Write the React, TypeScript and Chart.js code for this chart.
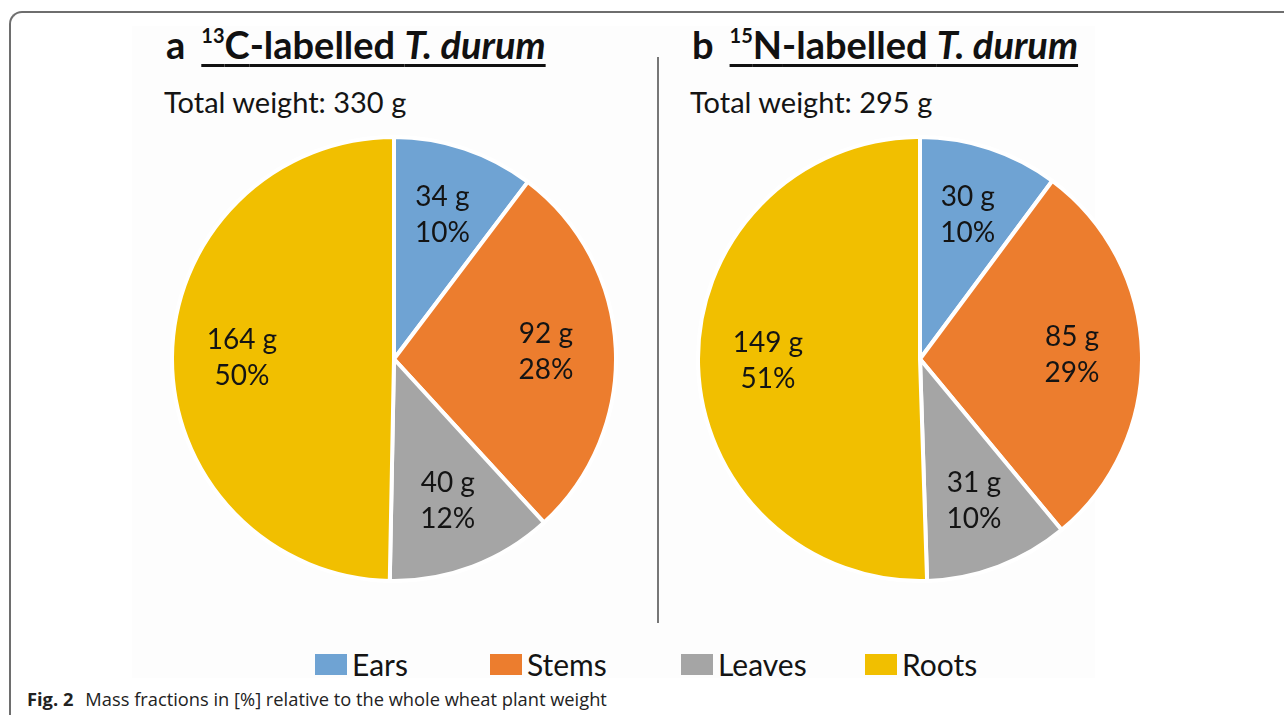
import React, { useEffect, useRef } from "react";
import { Chart, registerables } from "chart.js";

Chart.register(...registerables);

const categories = ["Ears", "Stems", "Leaves", "Roots"];
const colors = ["#6FA3D3", "#EC7D2E", "#A5A5A5", "#F1BF00"];
const weightsC13 = [34, 92, 40, 164];
const percentC13 = [10, 28, 12, 50];
const weightsN15 = [30, 85, 31, 149];
const percentN15 = [10, 29, 10, 51];
const totalC13 = 330;
const totalN15 = 295;

// layout only
const legendLeft = [315, 490, 681, 865];

const LABEL_FONT = "Lato, 'Open Sans', sans-serif";

const sliceLabelPlugin = {
  id: "sliceLabels",
  afterDatasetsDraw(chart: any) {
    const ctx = chart.ctx;
    const meta = chart.getDatasetMeta(0);
    const pcts: number[] = chart.options.plugins.sliceLabels.percents;
    const ds = chart.data.datasets[0];
    ctx.save();
    ctx.font = `28px ${LABEL_FONT}`;
    ctx.fillStyle = "#141414";
    ctx.textAlign = "center";
    ctx.textBaseline = "middle";
    meta.data.forEach((arc: any, i: number) => {
      const p = arc.getProps(["x", "y", "startAngle", "endAngle", "outerRadius"], true);
      const mid = (p.startAngle + p.endAngle) / 2;
      const r = p.outerRadius * 0.685;
      const cx = p.x + Math.cos(mid) * r;
      const cy = p.y + Math.sin(mid) * r;
      ctx.fillText(`${ds.data[i]} g`, cx, cy - 18);
      ctx.fillText(`${pcts[i]}%`, cx, cy + 18);
    });
    ctx.restore();
  },
};

function Pie({ values, percents, left, top, size }: { values: number[]; percents: number[]; left: number; top: number; size: number }) {
  const ref = useRef<HTMLCanvasElement | null>(null);
  useEffect(() => {
    if (!ref.current) return;
    const chart = new Chart(ref.current, {
      type: "pie",
      data: {
        labels: categories,
        datasets: [
          {
            data: values,
            backgroundColor: colors,
            borderColor: "#ffffff",
            borderWidth: 4,
          },
        ],
      },
      options: {
        animation: false,
        responsive: false,
        maintainAspectRatio: false,
        layout: { padding: 0 },
        plugins: {
          legend: { display: false },
          tooltip: { enabled: false },
          sliceLabels: { percents },
        } as any,
      },
      plugins: [sliceLabelPlugin],
    });
    return () => chart.destroy();
  }, []);
  return (
    <canvas
      ref={ref}
      width={size}
      height={size}
      style={{ position: "absolute", left, top, width: size, height: size }}
    />
  );
}

function Title({ letter, sup, element, left }: { letter: string; sup: string; element: string; left: number }) {
  return (
    <div
      style={{
        position: "absolute",
        left,
        top: 22,
        fontFamily: LABEL_FONT,
        fontWeight: 700,
        fontSize: 38,
        color: "#111",
        whiteSpace: "nowrap",
        lineHeight: "44px",
      }}
    >
      <span>{letter}</span>
      <span style={{ display: "inline-block", width: 16 }} />
      <span
        style={{
          textDecoration: "underline",
          textDecorationThickness: 3,
          textUnderlineOffset: 5,
        }}
      >
        <span style={{ fontSize: 20, position: "relative", top: -16 }}>{sup}</span>
        {element}-labelled <i>T. durum</i>
      </span>
    </div>
  );
}

function TotalText({ total, left }: { total: number; left: number }) {
  return (
    <div
      style={{
        position: "absolute",
        left,
        top: 84,
        fontFamily: LABEL_FONT,
        fontSize: 29,
        color: "#141414",
        whiteSpace: "nowrap",
      }}
    >
      Total weight: {total} g
    </div>
  );
}

export default function App() {
  return (
    <div
      style={{
        position: "absolute",
        left: 0,
        top: 0,
        width: 1284,
        height: 715,
        background: "#ffffff",
        overflow: "hidden",
      }}
    >
      {/* frame */}
      <div
        style={{
          position: "absolute",
          left: 9,
          top: 11,
          width: 1300,
          height: 760,
          borderLeft: "2px solid #6e6e6e",
          borderTop: "2px solid #6e6e6e",
          borderTopLeftRadius: 13,
        }}
      />
      {/* faint figure background */}
      <div
        style={{
          position: "absolute",
          left: 132,
          top: 26,
          width: 963,
          height: 652,
          background: "#fdfdfd",
        }}
      />
      <Title letter="a" sup="13" element="C" left={166} />
      <Title letter="b" sup="15" element="N" left={692} />
      <TotalText total={totalC13} left={164} />
      <TotalText total={totalN15} left={690} />
      <Pie values={weightsC13} percents={percentC13} left={170} top={135} size={448} />
      <Pie values={weightsN15} percents={percentN15} left={696} top={135} size={448} />
      {/* divider */}
      <div
        style={{
          position: "absolute",
          left: 657,
          top: 57,
          width: 2,
          height: 566,
          background: "#777",
        }}
      />
      {/* legend */}
      {categories.map((c, i) => (
        <div
          key={c}
          style={{
            position: "absolute",
            left: legendLeft[i],
            top: 646,
            display: "flex",
            alignItems: "center",
            fontFamily: LABEL_FONT,
            fontSize: 30,
            color: "#141414",
            whiteSpace: "nowrap",
            lineHeight: "36px",
          }}
        >
          <span style={{ display: "inline-block", width: 32, height: 21, background: colors[i], marginRight: 5 }} />
          <span>{c}</span>
        </div>
      ))}
      {/* caption */}
      <div
        style={{
          position: "absolute",
          left: 27,
          top: 686,
          fontFamily: "'Open Sans', Lato, sans-serif",
          fontSize: 18.3,
          color: "#222",
          whiteSpace: "nowrap",
        }}
      >
        <b>Fig. 2</b>
        <span style={{ marginLeft: 12 }}>Mass fractions in [%] relative to the whole wheat plant weight</span>
      </div>
    </div>
  );
}
